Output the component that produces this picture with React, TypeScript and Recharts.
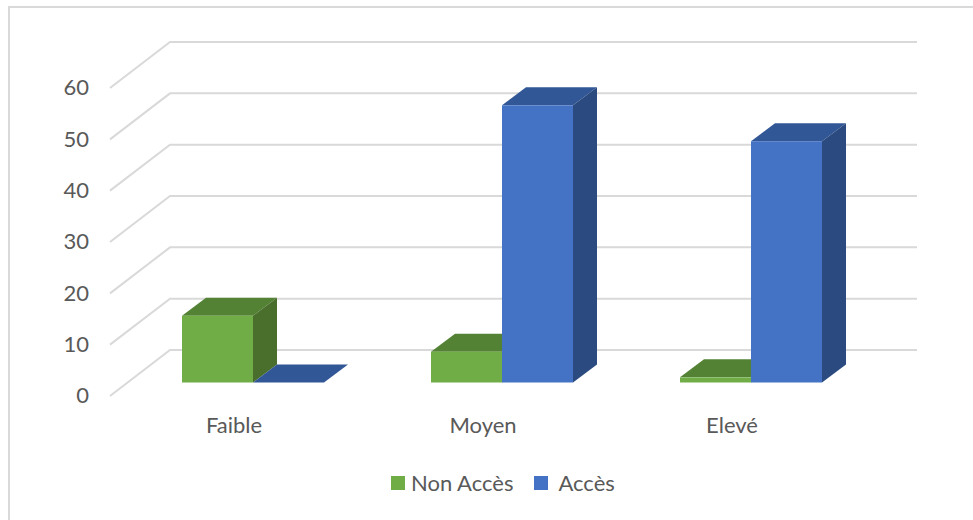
import { Bar, BarChart, CartesianGrid, Legend, XAxis, YAxis } from "recharts";

const CATEGORIES = ["Faible", "Moyen", "Elevé"];
const NON_ACCES = [13, 6, 1];
const ACCES = [0, 54, 47];
const VALUE_TICKS = [0, 10, 20, 30, 40, 50, 60];

const CHART_DATA = CATEGORIES.map((name, i) => ({
  name,
  nonAcces: NON_ACCES[i],
  acces: ACCES[i],
}));

const FONT = "Lato, 'Open Sans', sans-serif";
const FONT_SIZE = 22;
const TEXT_COLOR = "#595959";
const GRID_COLOR = "#d9d9d9";

// how far the back face of each column is pushed away from the front one
const DEPTH_X = 24;
const DEPTH_Y = 18;

// walls of the fake 3D box around the plot
const WALL_FRONT_X = 110;
const WALL_BACK_X = 170;
const WALL_RIGHT_X = 917;
const WALL_FRONT_DY = 13.5;
const WALL_BACK_DY = -32.5;

const FACE_COLORS: Record<string, { top: string; side: string }> = {
  "#70ad47": { top: "#548235", side: "#4a6e2c" },
  "#4472c4": { top: "#325796", side: "#2a4a80" },
};

const Column = ({ x, y, width, height, fill }: any) => {
  const faces = FACE_COLORS[fill];
  const right = x + width;
  const bottom = y + height;
  return (
    <g>
      <polygon
        points={`${x},${y} ${right},${y} ${right + DEPTH_X},${y - DEPTH_Y} ${x + DEPTH_X},${y - DEPTH_Y}`}
        fill={faces.top}
      />
      <polygon
        points={`${right},${y} ${right + DEPTH_X},${y - DEPTH_Y} ${right + DEPTH_X},${bottom - DEPTH_Y} ${right},${bottom}`}
        fill={faces.side}
      />
      <rect x={x} y={y} width={width} height={height} fill={fill} />
    </g>
  );
};

// one grid value: side wall diagonal, then the line along the back wall
const WallLine = ({ y1 }: any) => (
  <polyline
    points={`${WALL_FRONT_X},${y1 + WALL_FRONT_DY} ${WALL_BACK_X},${y1 + WALL_BACK_DY} ${WALL_RIGHT_X},${y1 + WALL_BACK_DY}`}
    fill="none"
    stroke={GRID_COLOR}
    strokeWidth={2}
  />
);

const ValueTick = ({ y, payload }: any) => (
  <text x={89} y={y + 13} dy="0.355em" textAnchor="end" fill={TEXT_COLOR} fontSize={FONT_SIZE} fontFamily={FONT}>
    {payload.value}
  </text>
);

const CategoryTick = ({ x, y, payload }: any) => (
  <text x={x - 18.5} y={y + 42} textAnchor="middle" fill={TEXT_COLOR} fontSize={FONT_SIZE} fontFamily={FONT}>
    {payload.value}
  </text>
);

const LegendRow = ({ payload }: any) => (
  <div style={{ display: "flex", alignItems: "center", fontFamily: FONT, fontSize: FONT_SIZE, color: TEXT_COLOR }}>
    {payload.map((entry: any, i: number) => (
      <span key={entry.value} style={{ display: "flex", alignItems: "center", marginLeft: i === 0 ? 0 : 21 }}>
        <span style={{ width: 14, height: 14, background: entry.color, marginRight: i === 0 ? 6 : 10 }} />
        {entry.value}
      </span>
    ))}
  </div>
);

export default function App() {
  return (
    <div style={{ position: "absolute", left: 0, top: 0, width: 973, height: 520, background: "#fff", overflow: "hidden" }}>
      <div
        style={{
          position: "absolute",
          left: 8,
          top: 6,
          right: -4,
          bottom: -4,
          border: "2px solid #d9d9d9",
          boxSizing: "border-box",
        }}
      />
      <BarChart
        width={973}
        height={520}
        data={CHART_DATA}
        margin={{ top: 74.5, right: 98, bottom: 0, left: 0 }}
        barCategoryGap={0}
        barGap={0}
        barSize={71}
      >
        <CartesianGrid vertical={false} horizontal={<WallLine />} />
        <YAxis
          width={128}
          domain={[0, 60]}
          ticks={VALUE_TICKS}
          interval={0}
          axisLine={false}
          tickLine={false}
          tick={<ValueTick />}
        />
        <XAxis dataKey="name" height={137.5} axisLine={false} tickLine={false} tick={<CategoryTick />} />
        <Legend
          layout="horizontal"
          verticalAlign="middle"
          itemSorter={null}
          content={<LegendRow />}
          wrapperStyle={{ left: 391, top: 469, width: "auto" }}
        />
        <Bar dataKey="nonAcces" name="Non Accès" fill="#70ad47" shape={<Column />} isAnimationActive={false} />
        <Bar dataKey="acces" name="Accès" fill="#4472c4" shape={<Column />} isAnimationActive={false} />
      </BarChart>
    </div>
  );
}
